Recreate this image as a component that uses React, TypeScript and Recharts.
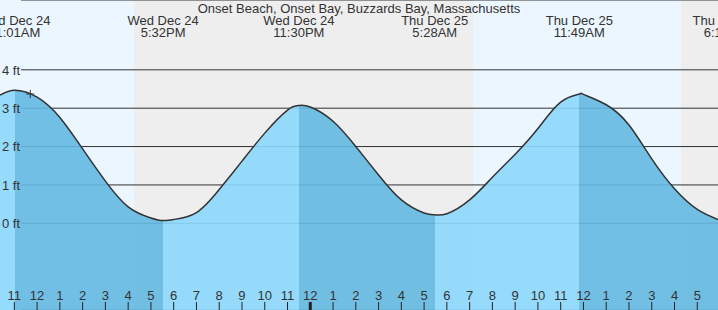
import React from "react";
import {
  ComposedChart,
  Area,
  XAxis,
  YAxis,
  CartesianGrid,
  ReferenceArea,
  ReferenceLine,
  ReferenceDot,
} from "recharts";

const TITLE = "Onset Beach, Onset Bay, Buzzards Bay, Massachusetts";

// hours counted from Wed Dec 24 00:00, water level in ft
const hours = [
  10.37, 11.02, 12, 13, 14, 15, 16, 17, 17.53, 18, 19, 20, 21, 22, 23, 23.5, 24, 25, 26, 27, 28, 29,
  29.47, 30, 31, 32, 33, 34, 35, 35.82, 36, 37, 38, 39, 40, 41, 41.91,
];
const levels = [
  3.34, 3.47, 3.29, 2.76, 1.94, 1.1, 0.43, 0.14, 0.07, 0.1, 0.28, 0.88, 1.62, 2.35, 2.95, 3.07, 3.03, 2.66,
  2.0, 1.26, 0.61, 0.27, 0.22, 0.25, 0.61, 1.2, 1.8, 2.47, 3.16, 3.37, 3.36, 3.09, 2.56, 1.68, 0.9, 0.36,
  0.1,
];

// high / low tide events
const tideTimes = [11.017, 17.533, 23.5, 29.467, 35.817, 42.27];
const tideKinds = ["high", "low", "high", "low", "high", "low"];
const tideDays = ["Wed Dec 24", "Wed Dec 24", "Wed Dec 24", "Thu Dec 25", "Thu Dec 25", "Thu Dec 25"];
const tideClock = ["11:01AM", "5:32PM", "11:30PM", "5:28AM", "11:49AM", "6:16PM"];

// night = sunset -> next sunrise
const sunsets = [16.27, 40.29];
const sunrises = [31.16, 55.15];

const hourTicks = [
  11, 12, 13, 14, 15, 16, 17, 18, 19, 20, 21, 22, 23, 24, 25, 26, 27, 28, 29, 30, 31, 32, 33, 34, 35, 36,
  37, 38, 39, 40, 41,
];
const levelTicks = [0, 1, 2, 3, 4];

const nowHour = 11.7;
const nowLevel = 3.37;

const X_DOMAIN = [10.37, 41.91];
const Y_DOMAIN = [-2.26, 5.82];

const RISING = "#8CD8FC";
const FALLING = "#64B9E2";
const TEXT = "#333";

const data = hours.map((t, i) => ({ t, level: levels[i] }));

function gradientStops() {
  const span = X_DOMAIN[1] - X_DOMAIN[0];
  const pos = (t: number) => Math.min(1, Math.max(0, (t - X_DOMAIN[0]) / span));
  const stops: React.ReactElement[] = [];
  let from = 0;
  tideTimes.forEach((t, i) => {
    // before a high the water rises, before a low it falls
    const color = tideKinds[i] === "high" ? RISING : FALLING;
    const to = pos(t);
    stops.push(<stop key={`a${i}`} offset={from} stopColor={color} />);
    stops.push(<stop key={`b${i}`} offset={to} stopColor={color} />);
    from = to;
  });
  return stops;
}

function HourTick(props: any) {
  const { x, y, payload } = props;
  const h = payload.value as number;
  const label = h % 12 === 0 ? 12 : h % 12;
  const midnight = h % 24 === 0;
  return (
    <g>
      <text x={x} y={y - 10} textAnchor="middle" fill={TEXT} fontSize={13}>
        {label}
      </text>
      <line x1={x} x2={x} y1={y - 8} y2={y} stroke="#222" strokeWidth={midnight ? 3 : 1} />
    </g>
  );
}

function LevelTick(props: any) {
  const { y, payload } = props;
  return (
    <text x={2} y={y + 4.7} textAnchor="start" fill={TEXT} fontSize={13}>
      {payload.value} ft
    </text>
  );
}

function EventLabel(props: any) {
  const { viewBox, day, time } = props;
  const x = viewBox ? viewBox.x : 0;
  return (
    <g>
      <text x={x} y={25} textAnchor="middle" fill={TEXT} fontSize={13}>
        {day}
      </text>
      <text x={x} y={37} textAnchor="middle" fill={TEXT} fontSize={13}>
        {time}
      </text>
    </g>
  );
}

function NowCross(props: any) {
  const { cx, cy } = props;
  return <path d={`M${cx - 4},${cy}H${cx + 4}M${cx},${cy - 4}V${cy + 4}`} stroke="#333" strokeWidth={1} fill="none" />;
}

export default function App() {
  return (
    <div style={{ width: 718, height: 310, background: "#EBF6FE", fontFamily: '"Liberation Sans", Arial, sans-serif' }}>
      <style>{"body{margin:0}"}</style>
      <ComposedChart width={718} height={310} data={data} margin={{ top: 0, right: 0, bottom: 0, left: 0 }}>
        <defs>
          <linearGradient id="tideFill" x1="0" y1="0" x2="1" y2="0">
            {gradientStops()}
          </linearGradient>
        </defs>
        <XAxis
          dataKey="t"
          type="number"
          domain={X_DOMAIN}
          allowDataOverflow
          ticks={hourTicks}
          interval={0}
          height={0.001}
          tickSize={0}
          tickMargin={0}
          axisLine={false}
          tickLine={false}
          tick={<HourTick />}
        />
        <YAxis
          type="number"
          domain={Y_DOMAIN}
          allowDataOverflow
          ticks={levelTicks}
          interval={0}
          width={0.001}
          axisLine={false}
          tickLine={false}
          tick={<LevelTick />}
        />
        {sunsets.map((s, i) => (
          <ReferenceArea
            key={`night${i}`}
            x1={s}
            x2={sunrises[i]}
            fill="#EEEEEE"
            fillOpacity={1}
            stroke="none"
            ifOverflow="hidden"
            zIndex={-200}
          />
        ))}
        <CartesianGrid vertical={false} stroke="#333" x={21} width={697} zIndex={-100} />
        <Area
          type="natural"
          dataKey="level"
          stroke="#333"
          strokeWidth={1.5}
          fill="url(#tideFill)"
          fillOpacity={0.9}
          baseValue="dataMin"
          dot={false}
          activeDot={false}
          isAnimationActive={false}
        />
        <ReferenceDot x={nowHour} y={nowLevel} shape={<NowCross />} ifOverflow="visible" />
        {tideTimes.map((t, i) => (
          <ReferenceLine
            key={`ev${i}`}
            x={t}
            stroke="none"
            ifOverflow="visible"
            label={<EventLabel day={tideDays[i]} time={tideClock[i]} />}
          />
        ))}
        <text x="50%" y={13} textAnchor="middle" fill={TEXT} fontSize={13}>
          {TITLE}
        </text>
      </ComposedChart>
    </div>
  );
}
